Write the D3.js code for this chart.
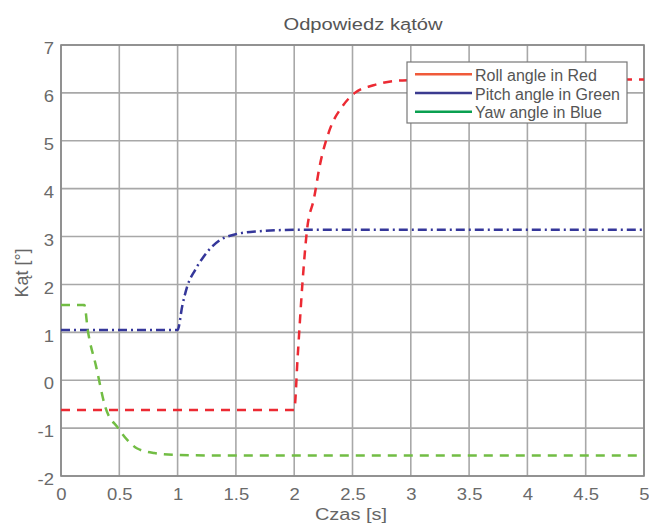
<!DOCTYPE html>
<html>
<head>
<meta charset="utf-8">
<script src="https://cdn.jsdelivr.net/npm/d3@7"></script>
<style>
  body { margin: 0; background: #fff; }
  svg { font-family: "Liberation Sans", Arial, sans-serif; }
  .tick text { fill: #6a6a6a; font-size: 16.8px; }
</style>
</head>
<body>
<div id="chart"></div>
<script>
// values
const xTicks = [0, 0.5, 1, 1.5, 2, 2.5, 3, 3.5, 4, 4.5, 5];
const yTicks = [-2, -1, 0, 1, 2, 3, 4, 5, 6, 7];

const rollData = [[0, -0.62], [2.0, -0.62], [2.03, 0.5], [2.07, 2.0], [2.11, 3.14], [2.17, 3.8],
  [2.22, 4.49], [2.3, 5.2], [2.42, 5.74], [2.52, 6.0], [2.68, 6.16], [2.93, 6.26], [3.5, 6.28], [5, 6.28]];
const pitchData = [[0, 1.05], [1.0, 1.05], [1.04, 1.55], [1.08, 1.94], [1.15, 2.3], [1.22, 2.57],
  [1.3, 2.8], [1.36, 2.92], [1.5, 3.05], [1.7, 3.11], [2.0, 3.14], [5, 3.14]];
const yawData = [[0, 1.57], [0.2, 1.57], [0.23, 1.04], [0.3, 0.3], [0.38, -0.56], [0.49, -1.0],
  [0.57, -1.25], [0.65, -1.42], [0.8, -1.52], [1.0, -1.56], [1.3, -1.57], [5, -1.57]];

const seriesNames = ['Roll angle in Red', 'Pitch angle in Green', 'Yaw angle in Blue'];
const lineColors = ['#ec2a33', '#35379a', '#72bd44'];
const legendColors = ['#f05a3a', '#3b3b8f', '#0aa050'];

const width = 649, height = 527;
const margin = { top: 45, right: 5, bottom: 51, left: 61 };
const w = width - margin.left - margin.right;
const h = height - margin.top - margin.bottom;

const svg = d3.select('#chart').append('svg')
  .attr('width', width).attr('height', height);

const g = svg.append('g').attr('transform', `translate(${margin.left},${margin.top})`);

const x = d3.scaleLinear().domain([0, 5]).range([0, w]);
const y = d3.scaleLinear().domain([-2, 7]).range([h, 0]);

// grid
g.append('g').selectAll('line').data(xTicks).enter().append('line')
  .attr('x1', d => x(d)).attr('x2', d => x(d)).attr('y1', 0).attr('y2', h)
  .attr('stroke', '#a8a8a8').attr('stroke-width', 1.6);
g.append('g').selectAll('line').data(yTicks).enter().append('line')
  .attr('x1', 0).attr('x2', w).attr('y1', d => y(d)).attr('y2', d => y(d))
  .attr('stroke', '#a8a8a8').attr('stroke-width', 1.6);

// axes (plain hyphen for negatives, text a bit wide like the original)
const fmt = d => String(d);
const xAxis = g.append('g').attr('transform', `translate(0,${h})`)
  .call(d3.axisBottom(x).tickValues(xTicks).tickSize(0).tickPadding(12.5).tickFormat(fmt));
const yAxis = g.append('g')
  .call(d3.axisLeft(y).tickValues(yTicks).tickSize(0).tickPadding(6.4).tickFormat(fmt));
[xAxis, yAxis].forEach(a => {
  a.select('.domain').remove();
  a.selectAll('.tick text').attr('transform', 'scale(1.1,1)');
});
yAxis.selectAll('.tick text').attr('dy', '0.52em');

g.append('rect').attr('width', w).attr('height', h)
  .attr('fill', 'none').attr('stroke', '#888').attr('stroke-width', 1.6);

// lines
const line = d3.line().x(d => x(d[0])).y(d => y(d[1])).curve(d3.curveMonotoneX);
const plotData = [rollData, pitchData, yawData];
const dashes = ['9,7', '9,4,2,4', '9,7'];
plotData.forEach((data, i) => {
  g.append('path').datum(data)
    .attr('d', line)
    .attr('fill', 'none')
    .attr('stroke', lineColors[i])
    .attr('stroke-width', 2.5)
    .attr('stroke-dasharray', dashes[i]);
});

// legend
const legend = svg.append('g').attr('transform', 'translate(407,62)');
legend.append('rect').attr('width', 220).attr('height', 61)
  .attr('fill', '#fff').attr('stroke', '#777').attr('stroke-width', 1.2);
seriesNames.forEach((name, i) => {
  const ly = 12.3 + i * 18.7;
  legend.append('line').attr('x1', 8).attr('x2', 65).attr('y1', ly).attr('y2', ly)
    .attr('stroke', legendColors[i]).attr('stroke-width', 2.5);
  legend.append('text').attr('x', 68).attr('y', ly + 6.5)
    .attr('fill', '#555').attr('font-size', 16).text(name);
});

// title and labels
svg.append('text').attr('transform', 'translate(363,30) scale(1.2,1)').attr('text-anchor', 'middle')
  .attr('fill', '#555').attr('font-size', 16.8).text('Odpowiedz kątów');
svg.append('text').attr('transform', 'translate(351,520) scale(1.25,1)').attr('text-anchor', 'middle')
  .attr('fill', '#666').attr('font-size', 16).text('Czas [s]');
svg.append('text').attr('transform', 'translate(28,273) rotate(-90)').attr('text-anchor', 'middle')
  .attr('fill', '#666').attr('font-size', 18).text('Kąt [°]');
</script>
</body>
</html>
